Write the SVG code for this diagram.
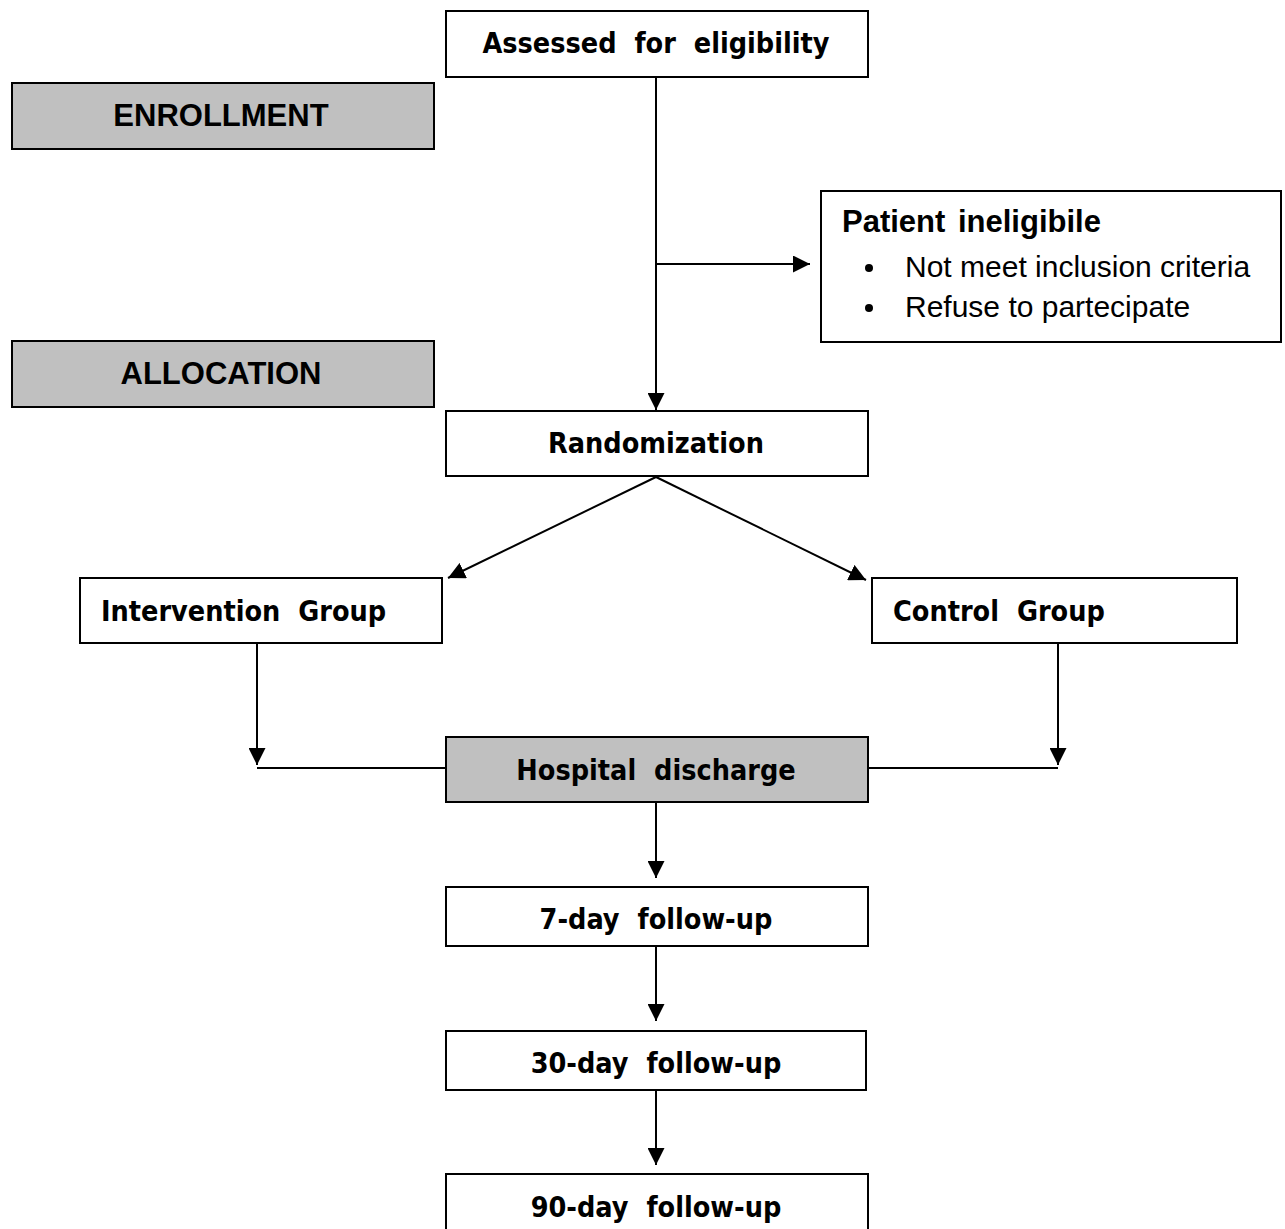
<svg xmlns="http://www.w3.org/2000/svg" width="1285" height="1229" viewBox="0 0 1285 1229">
<style>
.box{fill:#fff;stroke:#000;stroke-width:2}
.gray{fill:#c0c0c0;stroke:#000;stroke-width:2}
.t{font-family:"DejaVu Sans Condensed","DejaVu Sans",Verdana,sans-serif;font-stretch:condensed;font-weight:bold;font-size:28.5px;fill:#000;word-spacing:9px}
.a{font-family:"Liberation Sans",Arial,sans-serif;font-weight:bold;font-size:31px;fill:#000}
.r{font-family:"Liberation Sans",Arial,sans-serif;font-size:30px;fill:#000}
.c{fill:none;stroke:#000;stroke-width:2}
</style>
<defs>
<marker id="ah" viewBox="0 0 17 17" refX="17" refY="8.5" markerWidth="17" markerHeight="17" markerUnits="userSpaceOnUse" orient="auto">
<path d="M0,0 L17,8.5 L0,17 Z" fill="#000"/>
</marker>
</defs>
<g id="connectors">
<line class="c" x1="656" y1="77" x2="656" y2="410" marker-end="url(#ah)"/>
<line class="c" x1="656" y1="264" x2="810" y2="264" marker-end="url(#ah)"/>
<line class="c" x1="656" y1="477" x2="448" y2="578" marker-end="url(#ah)"/>
<line class="c" x1="656" y1="477" x2="866" y2="580" marker-end="url(#ah)"/>
<line class="c" x1="257" y1="643" x2="257" y2="765" marker-end="url(#ah)"/>
<line class="c" x1="257" y1="768" x2="446" y2="768"/>
<line class="c" x1="1058" y1="643" x2="1058" y2="765" marker-end="url(#ah)"/>
<line class="c" x1="868" y1="768" x2="1058" y2="768"/>
<line class="c" x1="656" y1="802" x2="656" y2="878" marker-end="url(#ah)"/>
<line class="c" x1="656" y1="946" x2="656" y2="1021" marker-end="url(#ah)"/>
<line class="c" x1="656" y1="1090" x2="656" y2="1165" marker-end="url(#ah)"/>
</g>
<g id="assessed"><rect class="box" x="446" y="11" width="422" height="66"/><text class="t" x="656" y="53" text-anchor="middle">Assessed for eligibility</text></g>
<g id="enrollment"><rect class="gray" x="12" y="83" width="422" height="66"/><text class="a" x="221" y="126" text-anchor="middle">ENROLLMENT</text></g>
<g id="ineligible"><rect class="box" x="821" y="191" width="460" height="151"/>
<text class="a" x="842" y="232" style="word-spacing:4px">Patient ineligibile</text>
<circle cx="869" cy="268" r="4"/><text class="r" x="905" y="277">Not meet inclusion criteria</text>
<circle cx="869" cy="308" r="4"/><text class="r" x="905" y="317">Refuse to partecipate</text></g>
<g id="allocation"><rect class="gray" x="12" y="341" width="422" height="66"/><text class="a" x="221" y="384" text-anchor="middle">ALLOCATION</text></g>
<g id="randomization"><rect class="box" x="446" y="411" width="422" height="65"/><text class="t" x="656" y="453" text-anchor="middle">Randomization</text></g>
<g id="intervention"><rect class="box" x="80" y="578" width="362" height="65"/><text class="t" x="101" y="621">Intervention Group</text></g>
<g id="control"><rect class="box" x="872" y="578" width="365" height="65"/><text class="t" x="893" y="621">Control Group</text></g>
<g id="discharge"><rect class="gray" x="446" y="737" width="422" height="65"/><text class="t" x="656" y="780" text-anchor="middle">Hospital discharge</text></g>
<g id="fu7"><rect class="box" x="446" y="887" width="422" height="59"/><text class="t" x="656" y="929" text-anchor="middle">7-day follow-up</text></g>
<g id="fu30"><rect class="box" x="446" y="1031" width="420" height="59"/><text class="t" x="656" y="1073" text-anchor="middle">30-day follow-up</text></g>
<g id="fu90"><rect class="box" x="446" y="1174" width="422" height="70"/><text class="t" x="656" y="1217" text-anchor="middle">90-day follow-up</text></g>
</svg>
